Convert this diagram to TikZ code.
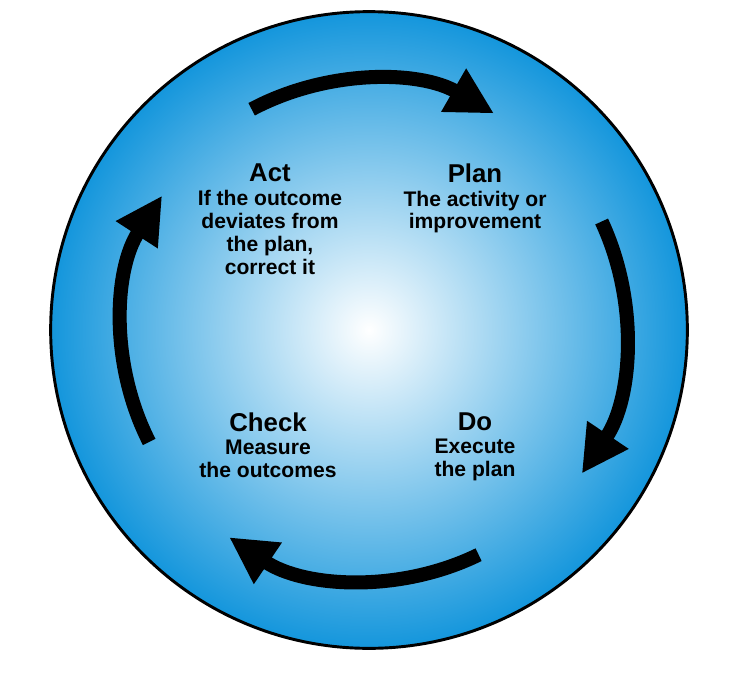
\documentclass[tikz,border=0pt]{standalone}
\usepackage{fontspec}
\setmainfont{Liberation Sans}
\usetikzlibrary{arrows.meta}
\definecolor{cycleblue}{RGB}{20,150,220}
\tikzset{
  cyclearrow/.style={line width=12pt, -{Triangle[length=1.4cm, width=1.4cm]}},
  steptitle/.style={font=\bfseries\fontsize{22}{24}\selectfont, align=center},
  steptext/.style={font=\bfseries\fontsize{18}{19.5}\selectfont, align=center}
}
\begin{document}
\begin{tikzpicture}[x=0.03cm, y=0.03cm]
  \useasboundingbox (0,0) rectangle (738,-677);
  \coordinate (c) at (369,-330);

  % Disc
  \shade[inner color=white, outer color=cycleblue] (c) circle[radius=9.55cm];
  \draw[line width=2.5pt] (c) circle[radius=9.55cm];

  % Arrows
  \draw[cyclearrow] (c) ++(118:7.5cm) arc[start angle=118, end angle=60, radius=7.5cm];
  \draw[cyclearrow] (c) ++(25:7.7cm) arc[start angle=25, end angle=-34, radius=7.7cm];
  \draw[cyclearrow] (c) ++(-64:7.5cm) arc[start angle=-64, end angle=-124, radius=7.5cm];
  \draw[cyclearrow] (c) ++(207:7.4cm) arc[start angle=207, end angle=147, radius=7.4cm];

  % Labels
  \node[steptitle] (act) at (270,-173) {Act};
  \node[steptext, below=0pt] (acttext) at (act.south) {If the outcome\\deviates from\\the plan,\\correct it};
  \node[steptitle] (plan) at (475,-173) {Plan};
  \node[steptext, below=0pt] (plantext) at (plan.south) {The activity or\\improvement};
  \node[steptitle] (check) at (268,-422) {Check};
  \node[steptext, below=0pt] (checktext) at (check.south) {Measure\\the outcomes};
  \node[steptitle] (do) at (475,-422) {Do};
  \node[steptext, below=0pt] (dotext) at (do.south) {Execute\\the plan};
\end{tikzpicture}
\end{document}
